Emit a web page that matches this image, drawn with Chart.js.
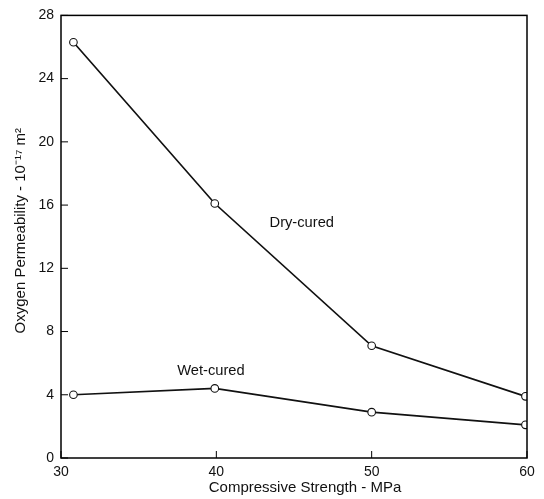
<!DOCTYPE html>
<html>
<head>
<meta charset="utf-8">
<script src="https://cdn.jsdelivr.net/npm/chart.js@4"></script>
<style>
  html, body { margin: 0; padding: 0; background: #fff; }
  #wrap { width: 544px; height: 499px; }
</style>
</head>
<body>
<div id="wrap"><canvas id="permChart" width="544" height="499"></canvas></div>
<script>
// datos
const dryStrength = [30.8, 39.9, 50.0, 59.9];
const dryPerm = [26.3, 16.1, 7.1, 3.9];
const wetStrength = [30.8, 39.9, 50.0, 59.9];
const wetPerm = [4.0, 4.4, 2.9, 2.1];
const xTicks = [30, 40, 50, 60];
const yTicks = [0, 4, 8, 12, 16, 20, 24, 28];
const xTitle = 'Compressive Strength - MPa';
const yTitle = 'Oxygen Permeability - 10\u207B\u00B9\u2077 m\u00B2';

const font = '"Liberation Sans", Arial, Helvetica, sans-serif';

function toPoints(xs, ys) {
    return xs.map((x, i) => ({ x: x, y: ys[i] }));
}

// marco completo y marcas hacia dentro
const framePlugin = {
    id: 'frame',
    afterDatasetsDraw(chart) {
        const { ctx, chartArea: a, scales } = chart;
        ctx.save();
        ctx.strokeStyle = '#000';
        ctx.lineWidth = 1.5;
        ctx.strokeRect(a.left, a.top, a.right - a.left, a.bottom - a.top);
        ctx.lineWidth = 1;
        ctx.beginPath();
        yTicks.forEach(v => {
            const y = scales.y.getPixelForValue(v);
            ctx.moveTo(a.left, y);
            ctx.lineTo(a.left + 7, y);
        });
        xTicks.forEach(v => {
            const x = scales.x.getPixelForValue(v);
            ctx.moveTo(x, a.bottom);
            ctx.lineTo(x, a.bottom - 7);
        });
        ctx.stroke();
        ctx.restore();
    }
};

// etiquetas de las curvas y titulos de ejes
const curveLabels = [
    { text: 'Dry-cured', x: 45.5, y: 14.85 },
    { text: 'Wet-cured', x: 39.65, y: 5.5 }
];
const labelPlugin = {
    id: 'curveLabels',
    afterDatasetsDraw(chart) {
        const { ctx, scales, chartArea: a } = chart;
        ctx.save();
        ctx.fillStyle = '#111';
        ctx.font = '14.7px ' + font;
        ctx.textAlign = 'center';
        ctx.textBaseline = 'middle';
        curveLabels.forEach(l => {
            ctx.fillText(l.text, scales.x.getPixelForValue(l.x), scales.y.getPixelForValue(l.y));
        });
        ctx.font = '15px ' + font;
        ctx.fillText(xTitle, (a.left + a.right) / 2 + 11, 488);
        ctx.translate(21, (a.top + a.bottom) / 2 - 6);
        ctx.rotate(-Math.PI / 2);
        ctx.fillText(yTitle, 0, 0);
        ctx.restore();
    }
};

const lineStyle = {
    borderColor: '#111',
    borderWidth: 1.7,
    pointRadius: 3.8,
    pointBackgroundColor: '#fff',
    pointBorderColor: '#111',
    pointBorderWidth: 1.1,
    tension: 0,
    fill: false
};

new Chart(document.getElementById('permChart'), {
    type: 'line',
    data: {
        datasets: [
            Object.assign({ label: 'Dry-cured', data: toPoints(dryStrength, dryPerm) }, lineStyle),
            Object.assign({ label: 'Wet-cured', data: toPoints(wetStrength, wetPerm) }, lineStyle)
        ]
    },
    options: {
        responsive: false,
        animation: false,
        layout: { padding: { left: 0, top: 14, right: 17, bottom: 0 } },
        plugins: {
            legend: { display: false },
            tooltip: { enabled: false }
        },
        scales: {
            x: {
                type: 'linear',
                min: 30,
                max: 60,
                afterBuildTicks: s => { s.ticks = xTicks.map(v => ({ value: v })); },
                afterFit: s => { s.height = 41; },
                grid: { display: false, drawTicks: false },
                border: { display: false },
                ticks: { color: '#111', padding: 6, font: { family: font, size: 14 } }
            },
            y: {
                min: 0,
                max: 28,
                afterBuildTicks: s => { s.ticks = yTicks.map(v => ({ value: v })); },
                afterFit: s => { s.width = 61; },
                grid: { display: false, drawTicks: false },
                border: { display: false },
                ticks: { color: '#111', padding: 7, font: { family: font, size: 14 } }
            }
        }
    },
    plugins: [framePlugin, labelPlugin]
});
</script>
</body>
</html>
